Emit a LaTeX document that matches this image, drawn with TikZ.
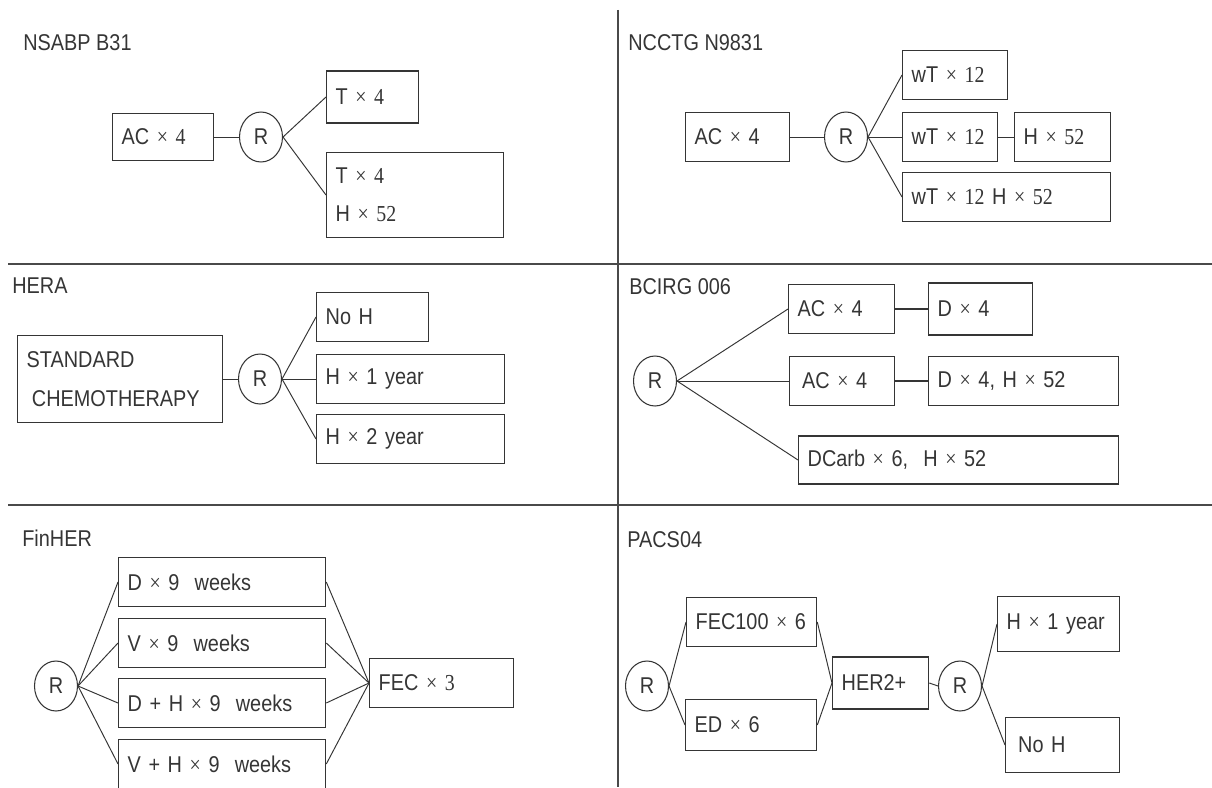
\documentclass[tikz,border=0pt]{standalone}
\usepackage{fontspec}
\setmainfont{Liberation Sans}[FakeStretch=0.87]
\newfontfamily\serifnum{Liberation Serif}[FakeStretch=0.87]
\usetikzlibrary{shapes.geometric}
\definecolor{TrialInk}{HTML}{353535}
\definecolor{TrialRule}{HTML}{4A4A4A}
\newcommand{\tm}{{\serifnum ×}}
\newcommand{\sn}[1]{{\serifnum #1}}

\tikzset{
  arm/.style={draw=TrialInk, line width=0.75pt, rectangle, anchor=west, align=left,
    inner xsep=0.18cm, minimum height=0.98cm, text=TrialInk},
  rand/.style={draw=TrialInk, line width=0.6pt, ellipse, inner sep=0pt,
    minimum width=0.86cm, minimum height=1cm, text=TrialInk},
  heading/.style={anchor=west, inner sep=0pt, text=TrialInk},
  link/.style={draw=TrialInk, line width=0.55pt},
  divider/.style={draw=TrialRule, line width=1.4pt},
}

\begin{document}
\begin{tikzpicture}[x=0.02cm, y=-0.02cm, font=\fontsize{13}{15.6}\selectfont]
  \useasboundingbox (0,0) rectangle (1212,787);
  \draw[divider] (618,10) -- (618,787);
  \draw[divider] (8,264) -- (1212,264);
  \draw[divider] (8,505) -- (1212,505);

  % NSABP B31
  \node[heading] (t1) at (23,43) {NSABP B31};
  \node[arm, text width=1.66cm, minimum height=0.94cm] (p1ac) at (112,137) {AC \tm\ \sn{4}};
  \node[rand] (p1r) at (261,137) {R};
  \node[arm, text width=1.48cm, minimum height=1.04cm] (p1t) at (326,97) {T \tm\ \sn{4}};
  \node[arm, text width=3.18cm, minimum height=1.70cm] (p1th) at (326,195) {T \tm\ \sn{4}\\[6pt]H \tm\ \sn{52}};
  \draw[link] (p1ac.east) -- (p1r.west);
  \foreach \n in {p1t,p1th} \draw[link] (p1r.east) -- (\n.west);

  % NCCTG N9831
  \node[heading] (t2) at (628,43) {NCCTG N9831};
  \node[arm, text width=1.72cm] (p2ac) at (685,137) {AC \tm\ 4};
  \node[rand] (p2r) at (846,137) {R};
  \node[arm, text width=1.74cm] (p2a) at (902,75) {wT \tm\ \sn{12}};
  \node[arm, text width=1.54cm] (p2b) at (902,137) {wT \tm\ \sn{12}};
  \node[arm, text width=1.56cm] (p2bh) at (1014,137) {H \tm\ \sn{52}};
  \node[arm, text width=3.80cm] (p2c) at (902,197) {wT \tm\ \sn{12} H \tm\ \sn{52}};
  \draw[link] (p2ac.east) -- (p2r.west);
  \foreach \n in {p2a,p2b,p2c} \draw[link] (p2r.east) -- (\n.west);
  \draw[link] (p2b.east) -- (p2bh.west);

  % HERA
  \node[heading] (t3) at (12,286) {HERA};
  \node[arm, text width=3.74cm, minimum height=1.74cm] (p3sc) at (17,379) {STANDARD\\[7pt]\hspace{3pt}CHEMOTHERAPY};
  \node[rand] (p3r) at (260,379) {R};
  \node[arm, text width=1.88cm] (p3a) at (316,317) {No H};
  \node[arm, text width=3.40cm] (p3b) at (316,379) {H \tm\ 1 year};
  \node[arm, text width=3.40cm] (p3c) at (316,439) {H \tm\ 2 year};
  \draw[link] (p3sc.east) -- (p3r.west);
  \foreach \n in {p3a,p3b,p3c} \draw[link] (p3r.east) -- (\n.west);

  % BCIRG 006
  \node[heading] (t4) at (629,287) {BCIRG 006};
  \node[rand] (p4r) at (655,381) {R};
  \node[arm, text width=1.76cm] (p4a) at (788,309) {AC \tm\ 4};
  \node[arm, text width=1.72cm, minimum height=1.04cm] (p4ad) at (928,309) {D \tm\ 4};
  \node[arm, text width=1.74cm] (p4b) at (789,381) {\hspace{2pt}AC \tm\ 4};
  \node[arm, text width=3.44cm] (p4bd) at (928,381) {D \tm\ 4, H \tm\ 52};
  \node[arm, text width=6.04cm, minimum height=0.96cm] (p4c) at (798,460) {DCarb \tm\ 6,\ \ H \tm\ 52};
  \foreach \n in {p4a,p4b,p4c} \draw[link] (p4r.east) -- (\n.west);
  \draw[link, line width=1pt] (p4a.east) -- (p4ad.west);
  \draw[link, line width=1pt] (p4b.east) -- (p4bd.west);

  % FinHER
  \node[heading] (t5) at (22,538) {FinHER};
  \node[rand] (p5r) at (56,686) {R};
  \node[arm, text width=3.78cm] (p5a) at (118,582) {D \tm\ 9\ \ weeks};
  \node[arm, text width=3.78cm] (p5b) at (118,643) {V \tm\ 9\ \ weeks};
  \node[arm, text width=3.78cm] (p5c) at (118,703) {D + H \tm\ 9\ \ weeks};
  \node[arm, text width=3.78cm] (p5d) at (118,764) {V + H \tm\ 9\ \ weeks};
  \node[arm, text width=2.52cm] (p5fec) at (369,683) {FEC \tm\ \sn{3}};
  \foreach \n in {p5a,p5b,p5c,p5d} {
    \draw[link] (p5r.east) -- (\n.west);
    \draw[link] (\n.east) -- (p5fec.west);
  }

  % PACS04
  \node[heading] (t6) at (627,540) {PACS04};
  \node[rand] (p6r) at (647,686) {R};
  \node[arm, text width=2.24cm] (p6a) at (686,622) {FEC100 \tm\ 6};
  \node[arm, text width=2.26cm, minimum height=1.02cm] (p6b) at (685,725) {ED \tm\ 6};
  \node[arm, text width=1.56cm, minimum height=1.04cm] (p6her) at (832,683) {HER2+};
  \node[rand] (p6s) at (960,686) {R};
  \node[arm, text width=2.08cm, minimum height=1.10cm] (p6h) at (997,624) {H \tm\ 1 year};
  \node[arm, text width=1.92cm, minimum height=1.10cm] (p6n) at (1005,745) {\hspace{2pt}No H};
  \foreach \n in {p6a,p6b} {
    \draw[link] (p6r.east) -- (\n.west);
    \draw[link] (\n.east) -- (p6her.west);
  }
  \draw[link] (p6her.east) -- (p6s.west);
  \foreach \n in {p6h,p6n} \draw[link] (p6s.east) -- (\n.west);
\end{tikzpicture}
\end{document}
